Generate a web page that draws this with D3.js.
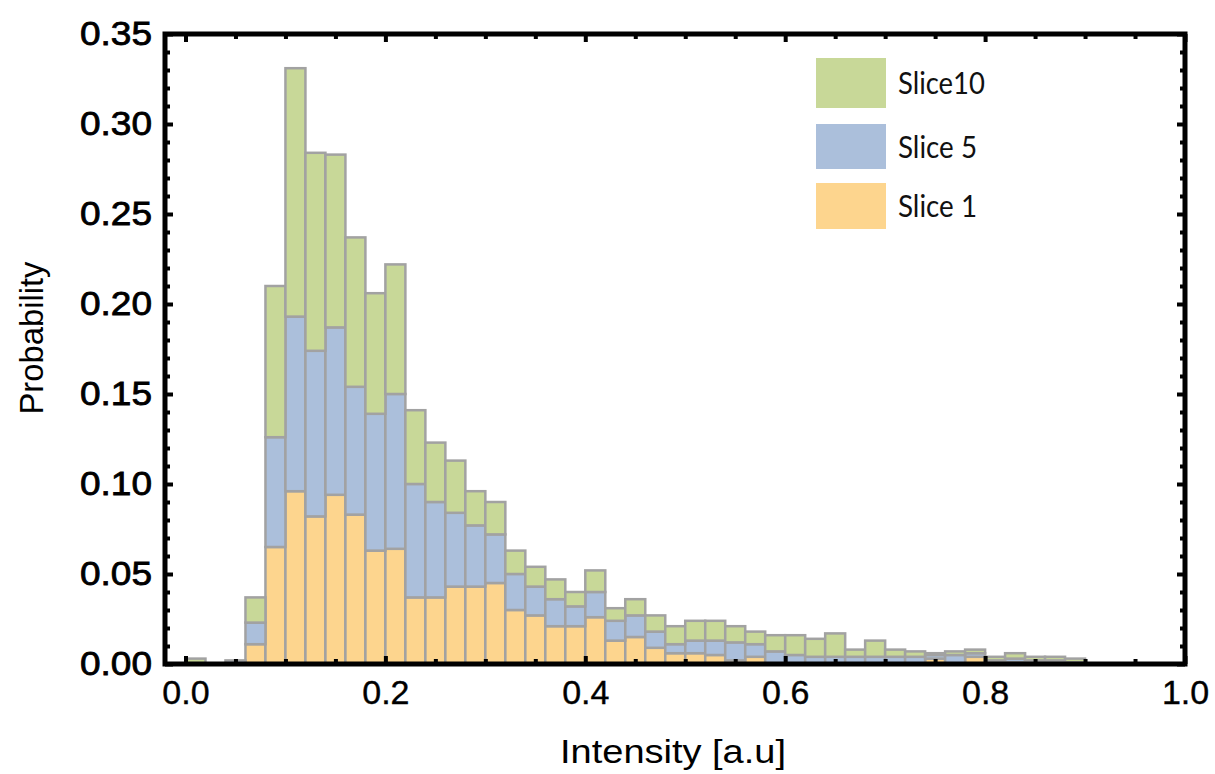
<!DOCTYPE html>
<html>
<head>
<meta charset="utf-8">
<script src="https://cdn.jsdelivr.net/npm/d3@7"></script>
<style>
  body { margin: 0; background: #fff; }
  svg { display: block; }
</style>
</head>
<body>
<div id="chart"></div>
<script>
// bin edges: 50 bins of width 0.02 from 0 to 1
const binStarts = d3.range(50).map(i => +(i * 0.02).toFixed(2));

// probability per bin for each slice (stacked: slice1 bottom, slice5 middle, slice10 top)
const slice1 = [0, 0, 0, 0.011, 0.065, 0.096, 0.082, 0.094, 0.083, 0.063,
  0.064, 0.037, 0.037, 0.043, 0.043, 0.045, 0.030, 0.027, 0.021, 0.021,
  0.026, 0.013, 0.015, 0.009, 0.006, 0.006, 0.005, 0.002, 0.004, 0,
  0, 0, 0, 0, 0, 0, 0, 0.003, 0, 0.004,
  0.001, 0.001, 0, 0, 0, 0, 0, 0, 0, 0];
const slice5 = [0, 0, 0.002, 0.012, 0.061, 0.097, 0.092, 0.093, 0.071, 0.076,
  0.086, 0.063, 0.053, 0.041, 0.034, 0.027, 0.020, 0.016, 0.015, 0.011,
  0.014, 0.011, 0.012, 0.009, 0.005, 0.007, 0.008, 0.010, 0.007, 0.007,
  0.005, 0.004, 0.004, 0.004, 0.004, 0.004, 0.004, 0.002, 0.005, 0.002,
  0.001, 0.002, 0.002, 0.002, 0.001, 0, 0, 0, 0, 0];
const slice10 = [0.003, 0, 0, 0.014, 0.084, 0.138, 0.110, 0.096, 0.083, 0.067,
  0.072, 0.041, 0.033, 0.029, 0.019, 0.018, 0.013, 0.011, 0.011, 0.008,
  0.012, 0.007, 0.009, 0.009, 0.010, 0.011, 0.011, 0.009, 0.007, 0.009,
  0.011, 0.010, 0.013, 0.004, 0.009, 0.004, 0.003, 0.001, 0.002, 0.002,
  0.002, 0.003, 0.002, 0.002, 0.002, 0, 0, 0, 0, 0];

const seriesKeys = ['Slice 1', 'Slice 5', 'Slice10'];
const legendOrder = ['Slice10', 'Slice 5', 'Slice 1'];
const xTickLabels = [0, 0.2, 0.4, 0.6, 0.8, 1.0];
const yTickLabels = [0, 0.05, 0.10, 0.15, 0.20, 0.25, 0.30, 0.35];

const colors = { 'Slice 1': '#fdd58e', 'Slice 5': '#abbfdb', 'Slice10': '#c8d898' };

const W = 1215, H = 774;
const margin = { top: 34, right: 30, bottom: 110, left: 165 };
const binW = 0.02;

const svg = d3.select('#chart').append('svg')
  .attr('width', W).attr('height', H);

const x = d3.scaleLinear().domain([-0.0205, 1.0]).range([margin.left, 1185]);
const y = d3.scaleLinear().domain([0, 0.35]).range([664, margin.top]);

// table built for the stack
const table = binStarts.map((b, i) => ({
  bin: b, 'Slice 1': slice1[i], 'Slice 5': slice5[i], 'Slice10': slice10[i]
}));
const stacked = d3.stack().keys(seriesKeys)(table);

const bars = svg.append('g');
stacked.forEach(layer => {
  bars.append('g')
    .selectAll('rect')
    .data(layer.filter(d => d[1] - d[0] > 0))
    .enter().append('rect')
    .attr('x', d => x(d.data.bin))
    .attr('width', d => x(d.data.bin + binW) - x(d.data.bin))
    .attr('y', d => y(d[1]))
    .attr('height', d => y(d[0]) - y(d[1]))
    .attr('fill', colors[layer.key])
    .attr('stroke', '#a2a2a2')
    .attr('stroke-width', 2.5);
});

// ticks on all four sides, pointing inward
function styleTicks(g) {
  g.select('.domain').remove();
  g.selectAll('.tick line').attr('stroke', '#000').attr('stroke-width', 4);
}
const xMinor = d3.range(0, 1.001, 0.05).filter(v => Math.round(v * 100) % 20 !== 0);
const yMinor = d3.range(0, 0.3501, 0.01).filter(v => Math.round(v * 100) % 5 !== 0);

svg.append('g').attr('transform', `translate(0,664)`)
  .call(d3.axisBottom(x).tickValues(xMinor).tickSize(-5).tickFormat(''))
  .call(styleTicks);
svg.append('g').attr('transform', `translate(0,${margin.top})`)
  .call(d3.axisTop(x).tickValues(xMinor).tickSize(-5).tickFormat(''))
  .call(styleTicks);
svg.append('g').attr('transform', `translate(0,${margin.top})`)
  .call(d3.axisTop(x).tickValues(xTickLabels).tickSize(-8).tickFormat(''))
  .call(styleTicks);
svg.append('g').attr('transform', `translate(${margin.left},0)`)
  .call(d3.axisLeft(y).tickValues(yMinor).tickSize(-5).tickFormat(''))
  .call(styleTicks);
svg.append('g').attr('transform', `translate(1185,0)`)
  .call(d3.axisRight(y).tickValues(yMinor).tickSize(-5).tickFormat(''))
  .call(styleTicks);
svg.append('g').attr('transform', `translate(1185,0)`)
  .call(d3.axisRight(y).tickValues(yTickLabels).tickSize(-8).tickFormat(''))
  .call(styleTicks);

// labelled axes
const xAxis = svg.append('g').attr('transform', `translate(0,664)`)
  .call(d3.axisBottom(x).tickValues(xTickLabels).tickSize(-8).tickPadding(16)
    .tickFormat(d3.format('.1f')))
  .call(styleTicks);
xAxis.selectAll('text')
  .attr('fill', '#000')
  .attr('stroke', '#000').attr('stroke-width', 0.4)
  .style('font-family', '"Liberation Sans", Arial, sans-serif')
  .style('font-size', '34px');

const yAxis = svg.append('g').attr('transform', `translate(${margin.left},0)`)
  .call(d3.axisLeft(y).tickValues(yTickLabels).tickSize(-8).tickPadding(13)
    .tickFormat(d3.format('.2f')))
  .call(styleTicks);
yAxis.selectAll('text')
  .attr('fill', '#000')
  .attr('stroke', '#000').attr('stroke-width', 0.8)
  .attr('textLength', 72)
  .attr('lengthAdjust', 'spacingAndGlyphs')
  .style('font-family', '"Liberation Sans", Arial, sans-serif')
  .style('font-size', '33px');

// frame
svg.append('rect')
  .attr('x', margin.left).attr('y', margin.top)
  .attr('width', 1185 - margin.left).attr('height', 664 - margin.top)
  .attr('fill', 'none').attr('stroke', '#000').attr('stroke-width', 5);

// axis titles
svg.append('text')
  .attr('x', 673).attr('y', 763)
  .attr('text-anchor', 'middle')
  .attr('textLength', 226)
  .attr('lengthAdjust', 'spacingAndGlyphs')
  .style('font-family', '"Liberation Sans", Arial, sans-serif')
  .style('font-size', '33px')
  .text('Intensity [a.u]');

svg.append('text')
  .attr('transform', 'translate(43,338) rotate(-90)')
  .attr('text-anchor', 'middle')
  .attr('textLength', 153)
  .attr('lengthAdjust', 'spacingAndGlyphs')
  .style('font-family', '"Liberation Sans", Arial, sans-serif')
  .style('font-size', '33px')
  .text('Probability');

// legend
const legendTops = [58, 124, 183];
const legendHeights = [50, 45, 46];
const legendLen = { 'Slice10': 87, 'Slice 5': 79, 'Slice 1': 79 };
const legend = svg.append('g');
legendOrder.forEach((k, i) => {
  legend.append('rect')
    .attr('x', 816).attr('y', legendTops[i])
    .attr('width', 70).attr('height', legendHeights[i])
    .attr('fill', colors[k]);
  legend.append('text')
    .attr('x', 898).attr('y', legendTops[i] + legendHeights[i] / 2 + 11)
    .attr('textLength', legendLen[k])
    .attr('lengthAdjust', 'spacingAndGlyphs')
    .style('font-family', 'Lato, "Open Sans", sans-serif')
    .style('font-size', '31px')
    .attr('fill', '#111')
    .text(k);
});
</script>
</body>
</html>
